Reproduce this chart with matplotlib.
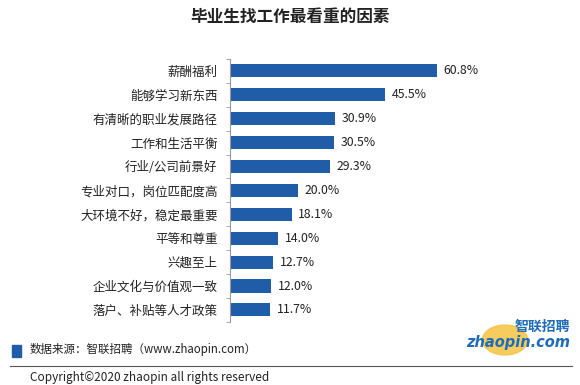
import numpy as np
import matplotlib.pyplot as plt
from matplotlib.patches import Rectangle, Circle

plt.rcParams['font.family'] = ['Noto Sans CJK SC', 'DejaVu Sans']

# 数据
categories = ['薪酬福利', '能够学习新东西', '有清晰的职业发展路径', '工作和生活平衡',
              '行业/公司前景好', '专业对口，岗位匹配度高', '大环境不好，稳定最重要',
              '平等和尊重', '兴趣至上', '企业文化与价值观一致', '落户、补贴等人才政策']
values = [60.8, 45.5, 30.9, 30.5, 29.3, 20.0, 18.1, 14.0, 12.7, 12.0, 11.7]

bar_color = '#1F5DA8'

fig = plt.figure(figsize=(5.8, 3.85), dpi=100)
ax = fig.add_axes([0.3966, 0.164, 0.41, 0.683])

y = np.arange(len(categories))
ax.barh(y, values, height=0.55, color=bar_color)
ax.set_ylim(len(categories) - 0.5, -0.5)
ax.set_xlim(0, 70)

for yi, v in zip(y, values):
    ax.text(v + 2, yi, f'{v:.1f}%', va='center', ha='left', fontsize=8.8, color='#222222')

ax.set_yticks(y)
ax.set_yticklabels(categories, fontsize=9, color='#222222')
ax.tick_params(axis='y', length=0, pad=9)
ax.set_yticks(np.arange(len(categories) + 1) - 0.5, minor=True)
ax.tick_params(axis='y', which='minor', length=3, color='#999999')
ax.set_xticks([])
for s in ['top', 'right', 'bottom']:
    ax.spines[s].set_visible(False)
ax.spines['left'].set_color('#999999')

fig.text(0.5, 0.955, '毕业生找工作最看重的因素', ha='center', va='center',
         fontsize=12, fontweight='bold', color='#222222')

# 底部信息
fig.patches.append(Rectangle((12 / 580, 1 - 357 / 385), 9 / 580, 12 / 385,
                             transform=fig.transFigure, color=bar_color))
fig.text(30 / 580, 1 - 350 / 385, '数据来源：智联招聘（www.zhaopin.com）',
         ha='left', va='center', fontsize=8.3, color='#222222')
fig.add_artist(plt.Line2D([10 / 580, 572 / 580], [1 - 366 / 385, 1 - 366 / 385],
                          transform=fig.transFigure, color='#555555', lw=0.8))
fig.text(30 / 580, 1 - 378 / 385, 'Copyright©2020 zhaopin all rights reserved',
         ha='left', va='center', fontsize=8.5, color='#222222')

# logo
fig.patches.append(Circle((505 / 580, 1 - 340 / 385), 15 / 385,
                          transform=fig.transFigure, color='#F5C342', alpha=0.85))
fig.text(570 / 580, 1 - 327 / 385, '智联招聘', ha='right', va='center',
         fontsize=10, fontweight='bold', style='italic', color='#1F6DB8')
fig.text(570 / 580, 1 - 343 / 385, 'zhaopin.com', ha='right', va='center',
         fontsize=10.5, fontweight='bold', style='italic', color='#1F6DB8',
         family='DejaVu Sans')

fig.savefig('out.png', dpi=100)
